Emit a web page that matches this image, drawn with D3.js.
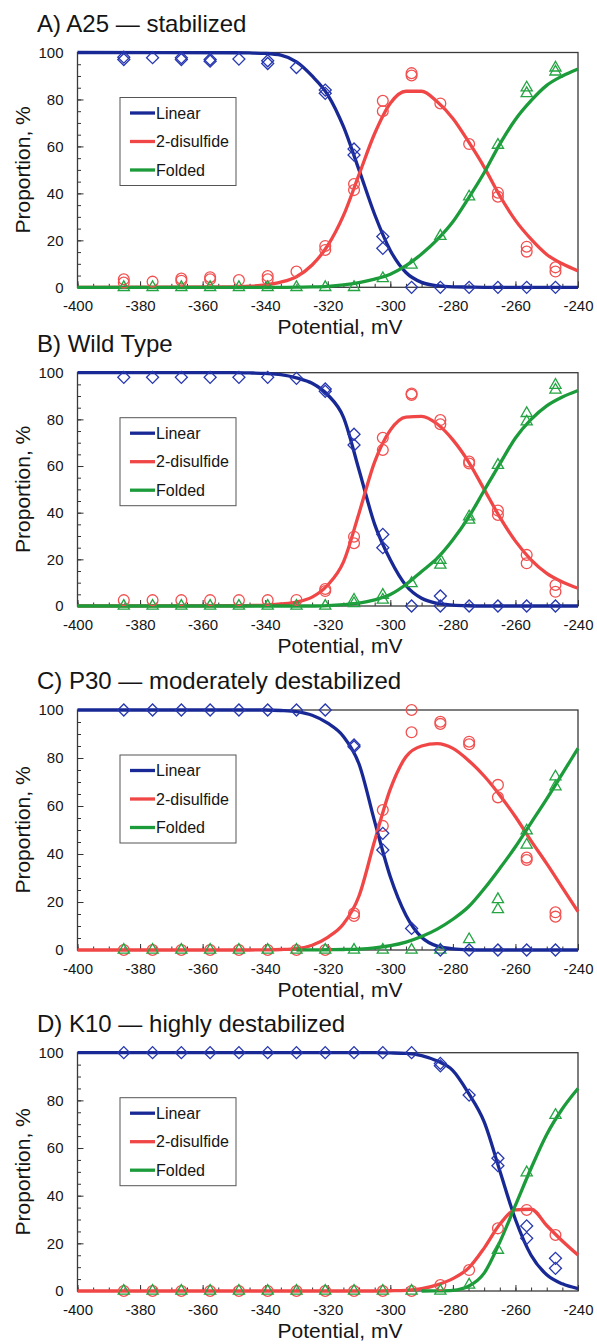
<!DOCTYPE html>
<html><head><meta charset="utf-8">
<script src="https://cdn.jsdelivr.net/npm/d3@7"></script>
<style>body{margin:0;background:#fff}text{font-family:"Liberation Sans",Arial,Helvetica,sans-serif;fill:#151515}</style>
</head><body>
<svg id="c" width="597" height="1344"></svg>
<script>
// ---------- data ----------
const xPoints = [-385.2,-376,-366.8,-357.6,-348.4,-339.2,-330,-320.8,-311.6,-302.4,-293.2,-284,-274.8,-265.6,-256.4,-247.2];
const curveX = [-400,-350,-345,-340,-335,-330,-325,-320,-315,-310,-305,-300,-295,-290,-285,-280,-275,-270,-265,-260,-255,-250,-245,-240];
const xTicks = [-400,-380,-360,-340,-320,-300,-280,-260,-240];
const xTickLabels = ["-400","-380","-360","-340","-320","-300","-280","-260","-240"];
const yTicks = [0,20,40,60,80,100];
const titles = ["A) A25 \u2014 stabilized","B) Wild Type","C) P30 \u2014 moderately destabilized","D) K10 \u2014 highly destabilized"];
const legendLabels = ["Linear","2-disulfide","Folded"];
const xTitle = "Potential, mV";
const yTitle = "Proportion, %";

// Panel A (measured points: replicate values per potential)
const linearA = [[98,97],[97.8],[97.8,97],[97,96.3],[97.2],[96.5,95.3],[93.6],[84,82.6],[58.9,56.3],[21.6,16.6],[0],[0],[0],[0],[0],[0]];
const disulfideA = [[3.4,2],[2.4],[3.7,2.8],[4.3,3.4],[3.1],[4.8,3.4],[6.7],[17.6,15.9],[44,41.4],[79.4,75],[91.2,90.2],[78.3],[61],[40.3,38.6],[17.3,15.2],[8.5,6.7]];
const foldedA = [[0],[0],[0],[0],[0],[0],[0],[0],[0],[3.8],[9.5],[21.8],[38.6],[60.6],[85,82.6],[93.5,91.8]];
const fitLinearA = [100,99.9,99.8,99.6,98.9,96,90,82,68.5,50,31,15.7,6.3,2.1,0.7,0.2,0.1,0,0,0,0,0,0,0];
const fitDisulfideA = [0,0.2,0.45,1,2.2,4.5,9.5,17.8,30.5,48,65.5,78.4,83.5,83.5,79,71.9,62,51.2,39,28.5,20.5,14,10,7];
const fitFoldedA = [0,0,0,0,0,0.05,0.15,0.4,1,2,3.5,5.6,9.2,14.2,20.3,27.9,38,48.8,61,71.5,79.5,86,90,93];

// Panel B
const linearB = [[98],[98],[98],[98],[98],[98],[97.6],[93,92],[73.6,69],[30.7,25],[0],[4.3,0],[0],[0],[0],[0]];
const disulfideB = [[2.5],[2.5],[2.5],[2.5],[2.5],[2.5],[2.6],[7.3,6.4],[29.7,26.9],[72.1,66.9],[91.1,90.5],[79.7,77.9],[61.9,61.1],[40.9,39],[21.9,18.3],[9,6.1]];
const foldedB = [[0],[0],[0],[0],[0],[0],[0],[0],[2.6,1.1],[4.7,2.6],[9.7],[19.7,17.6],[38.3,36.9],[60.4],[82.6,79],[94.7,92.6]];
const fitLinearB = [100,100,99.9,99.7,99.2,97.8,95.5,90.5,81,58.3,35,19.8,8.8,3.3,1.1,0.4,0.1,0,0,0,0,0,0,0];
const fitDisulfideB = [0,0.1,0.2,0.4,0.9,1.7,3.8,9,18.8,39.8,61.8,75.4,81,81.3,78,71.2,61.8,50,38.1,27.8,19.8,14,10.3,7.6];
const fitFoldedB = [0,0,0,0,0,0,0,0.2,0.6,1.2,2.6,4.9,9.2,14.8,20.5,28.4,38,49.5,60.9,72,80,85.8,89.6,92.4];

// Panel C
const linearC = [[100],[100],[100],[100],[100],[100],[100],[100],[85.4,84.7],[48.6,41.7],[9],[0],[0],[0],[0],[0]];
const disulfideC = [[0],[0],[0],[0],[0],[0],[0],[0],[15.3,14.2],[58.3,51.7],[100,90.7],[95.1,94.2],[86.8,85.7],[68.8,63.6],[38.5,37.5],[15.7,13.9]];
const foldedC = [[0],[0],[0],[0],[0],[0],[0],[0],[0],[0],[0],[0],[4.4],[21.1,16.9],[49.7,43.8],[72.2,68.1]];
const fitLinearC = [100,100,100,100,99.8,99.3,97.8,94.5,89,77.5,53.5,30.5,14.5,5.3,1.6,0.5,0.1,0,0,0,0,0,0,0];
const fitDisulfideC = [0,0,0,0.05,0.2,0.6,2,5.3,10.8,22.5,45.5,67,80.5,85,86,84,79,72.5,64.5,55.5,45.5,36,26,16];
const fitFoldedC = [null,null,null,null,null,0,0.05,0.1,0.2,0.4,0.9,1.8,3.3,5.6,8.7,12.8,18,25.5,34,43,53,63,73.5,84];

// Panel D
const linearD = [[100],[100],[100],[100],[100],[100],[100],[100],[100],[100],[100],[95.5,94.5],[82.2],[55.7,52.6],[27.3,22.1],[13.7,9.5]];
const disulfideD = [[0],[0],[0],[0],[0],[0],[0],[0],[0],[0],[0],[2.5],[8.8],[26.3],[34],[23.5]];
const foldedD = [[0],[0],[0],[0],[0],[0],[0],[0],[0],[0],[0],[0],[2.6],[17.2],[49.7],[73.8]];
const fitLinearD = [100,100,100,100,100,100,100,100,100,100,100,99.9,99.7,98.8,96.5,92.5,83,71,50.5,30,15,6.8,3,1];
const fitDisulfideD = [0,0,0,0,0,0,0,0,0,0,0,0.1,0.3,1,2.6,5.2,9.6,18,28,34,34.3,27.5,21,15.1];
const fitFoldedD = [null,null,null,null,null,null,null,null,null,null,null,null,null,0,0.05,0.3,2,7.5,20.5,36,51.5,65.7,76.5,85];

// ---------- drawing ----------
const svg = d3.select("#c");
const left = 77.5, right = 578;
const col = {blue:"#182894", red:"#f04646", green:"#1c9b3a", blueM:"#2838b0", redM:"#f25050", greenM:"#24a442"};
const panels = [
  {top:52.5, bottom:287.3, lin:linearA, dis:disulfideA, fol:foldedA, fLin:fitLinearA, fDis:fitDisulfideA, fFol:fitFoldedA},
  {top:372.7, bottom:606, lin:linearB, dis:disulfideB, fol:foldedB, fLin:fitLinearB, fDis:fitDisulfideB, fFol:fitFoldedB},
  {top:710, bottom:950, lin:linearC, dis:disulfideC, fol:foldedC, fLin:fitLinearC, fDis:fitDisulfideC, fFol:fitFoldedC},
  {top:1052.7, bottom:1291, lin:linearD, dis:disulfideD, fol:foldedD, fLin:fitLinearD, fDis:fitDisulfideD, fFol:fitFoldedD}
];
const flat = arr => arr.flatMap((vals,i) => vals.map(v => [xPoints[i], v]));

panels.forEach((p, pi) => {
  const g = svg.append("g");
  const x = d3.scaleLinear().domain([-400,-240]).range([left,right]);
  const y = d3.scaleLinear().domain([0,100]).range([p.bottom,p.top]);

  g.append("text").attr("x",37).attr("y",p.top-21).attr("font-size",24).text(titles[pi]);

  // minor ticks
  g.append("g").attr("transform",`translate(0,${p.bottom})`)
    .call(d3.axisBottom(x).tickValues(d3.range(-400,-239,5)).tickSize(-3.5).tickFormat(""))
    .call(s => { s.select(".domain").remove(); s.selectAll("line").attr("stroke","#333"); });
  g.append("g").attr("transform",`translate(${left},0)`)
    .call(d3.axisLeft(y).tickValues(d3.range(0,101,5)).tickSize(-3.5).tickFormat(""))
    .call(s => { s.select(".domain").remove(); s.selectAll("line").attr("stroke","#333"); });
  // major ticks
  g.append("g").attr("transform",`translate(0,${p.bottom})`)
    .call(d3.axisBottom(x).tickValues(xTicks).tickSize(-6).tickPadding(13).tickFormat((d,i) => xTickLabels[i]))
    .call(s => { s.select(".domain").remove(); s.selectAll("line").attr("stroke","#333");
      s.selectAll("text").attr("font-size",15).attr("fill","#151515").style("font-family","Liberation Sans, Arial, sans-serif"); });
  g.append("g").attr("transform",`translate(${left},0)`)
    .call(d3.axisLeft(y).tickValues(yTicks).tickSize(-6).tickPadding(14))
    .call(s => { s.select(".domain").remove(); s.selectAll("line").attr("stroke","#333");
      s.selectAll("text").attr("font-size",15).attr("fill","#151515").style("font-family","Liberation Sans, Arial, sans-serif"); });

  // frame
  g.append("rect").attr("x",left).attr("y",p.top).attr("width",right-left).attr("height",p.bottom-p.top)
    .attr("fill","none").attr("stroke","#3a3a3a").attr("stroke-width",1.3);

  // fitted curves
  const line = d3.line().defined(d => d[1] != null).x(d => x(d[0])).y(d => y(d[1])).curve(d3.curveMonotoneX);
  [[p.fLin,col.blue],[p.fDis,col.red],[p.fFol,col.green]].forEach(([arr,c]) => {
    g.append("path").datum(curveX.map((cx,i) => [cx, arr[i]])).attr("d",line)
      .attr("fill","none").attr("stroke",c).attr("stroke-width",3.3).attr("stroke-linejoin","round");
  });

  // markers
  g.selectAll(".cir").data(flat(p.dis)).join("circle")
    .attr("cx",d => x(d[0])).attr("cy",d => y(d[1])).attr("r",5.4)
    .attr("fill","none").attr("stroke",col.redM).attr("stroke-width",1.3);
  const tri = d3.symbol().type(d3.symbolTriangle).size(54);
  g.selectAll(".tri").data(flat(p.fol)).join("path")
    .attr("transform",d => `translate(${x(d[0])},${y(d[1])})`).attr("d",tri)
    .attr("fill","none").attr("stroke",col.greenM).attr("stroke-width",1.3);
  const dia = d3.symbol().type(d3.symbolSquare).size(72);
  g.selectAll(".dia").data(flat(p.lin)).join("path")
    .attr("transform",d => `translate(${x(d[0])},${y(d[1])}) rotate(45)`).attr("d",dia)
    .attr("fill","none").attr("stroke",col.blueM).attr("stroke-width",1.3);

  // legend
  const lx = 120, ly = p.top + 45;
  g.append("rect").attr("x",lx).attr("y",ly).attr("width",116).attr("height",88)
    .attr("fill","#fff").attr("stroke","#555").attr("stroke-width",1);
  [col.blue,col.red,col.green].forEach((c,i) => {
    const yy = ly + 15.5 + i*28.5;
    g.append("line").attr("x1",lx+10).attr("x2",lx+35).attr("y1",yy).attr("y2",yy).attr("stroke",c).attr("stroke-width",3.3);
    g.append("text").attr("x",lx+36).attr("y",yy).attr("dy","0.36em").attr("font-size",16).text(legendLabels[i]);
  });

  // axis titles
  g.append("text").attr("x",340).attr("y",p.bottom+47).attr("text-anchor","middle").attr("font-size",21).text(xTitle);
  g.append("text").attr("transform",`translate(30,${(p.top+p.bottom)/2}) rotate(-90)`)
    .attr("text-anchor","middle").attr("font-size",21).text(yTitle);
});
</script>
</body></html>
